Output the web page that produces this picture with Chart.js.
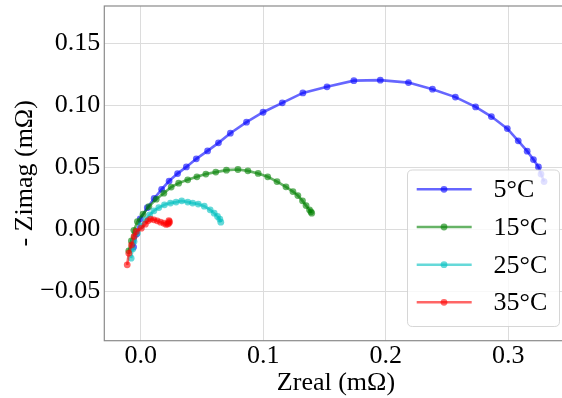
<!DOCTYPE html>
<html><head><meta charset="utf-8">
<script src="https://cdn.jsdelivr.net/npm/chart.js@4/dist/chart.umd.min.js"></script>
<style>html,body{margin:0;padding:0;overflow:hidden;background:#fff;width:562px;height:398px}canvas{display:block}</style>
</head><body>
<canvas id="c" width="571" height="398"></canvas>
<script>
const seriesNames = ['5°C', '15°C', '25°C', '35°C'];
const seriesColors = ['rgba(0,0,255,0.6)', 'rgba(0,128,0,0.6)', 'rgba(0,191,191,0.6)', 'rgba(255,0,0,0.6)'];

const x5 = [-0.0058, -0.0033, -0.0004, 0.0054, 0.0110, 0.0171, 0.0232, 0.0301, 0.0373, 0.0454, 0.0546, 0.0635, 0.0732, 0.0864, 0.0999, 0.1156, 0.1324, 0.1521, 0.1740, 0.1956, 0.2186, 0.2382, 0.2569, 0.2734, 0.2863, 0.2993, 0.3082, 0.3155, 0.3206, 0.3247, 0.3268, 0.3293];
const y5 = [-0.0145, -0.0040, 0.0082, 0.0173, 0.0247, 0.0321, 0.0388, 0.0448, 0.0502, 0.0567, 0.0631, 0.0696, 0.0774, 0.0863, 0.0943, 0.1019, 0.1099, 0.1148, 0.1198, 0.1202, 0.1182, 0.1129, 0.1065, 0.0986, 0.0908, 0.0811, 0.0712, 0.0629, 0.0561, 0.0502, 0.0444, 0.0384];

const x15 = [-0.0097, -0.0076, -0.0055, -0.0027, 0.0019, 0.0067, 0.0127, 0.0189, 0.0249, 0.0310, 0.0384, 0.0459, 0.0532, 0.0613, 0.0700, 0.0794, 0.0875, 0.0959, 0.1037, 0.1113, 0.1186, 0.1243, 0.1283, 0.1321, 0.1350, 0.1378, 0.1390, 0.1396];
const y15 = [-0.0175, -0.0095, -0.0010, 0.0061, 0.0121, 0.0182, 0.0242, 0.0290, 0.0339, 0.0371, 0.0398, 0.0422, 0.0444, 0.0460, 0.0476, 0.0481, 0.0470, 0.0449, 0.0422, 0.0384, 0.0341, 0.0303, 0.0271, 0.0228, 0.0190, 0.0156, 0.0140, 0.0129];

const x25 = [-0.0078, -0.0065, -0.0054, -0.0027, 0.0005, 0.0041, 0.0073, 0.0108, 0.0148, 0.0194, 0.0243, 0.0289, 0.0335, 0.0384, 0.0424, 0.0470, 0.0519, 0.0567, 0.0600, 0.0627, 0.0646, 0.0654];
const y25 = [-0.0234, -0.0160, -0.0100, -0.0032, 0.0027, 0.0075, 0.0115, 0.0148, 0.0174, 0.0196, 0.0210, 0.0218, 0.0228, 0.0218, 0.0210, 0.0202, 0.0185, 0.0156, 0.0129, 0.0102, 0.0081, 0.0056];

const x35 = [-0.0110, -0.0097, -0.0075, -0.0054, -0.0035, 0.0005, 0.0038, 0.0059, 0.0081, 0.0108, 0.0135, 0.0162, 0.0189, 0.0208, 0.0222, 0.0232, 0.0235, 0.0230];
const y35 = [-0.0288, -0.0194, -0.0127, -0.0060, -0.0019, 0.0008, 0.0040, 0.0067, 0.0081, 0.0075, 0.0067, 0.0056, 0.0048, 0.0038, 0.0042, 0.0050, 0.0060, 0.0068];

const xTicks = [0, 0.1, 0.2, 0.3];
const xTickLabels = ['0.0', '0.1', '0.2', '0.3'];
const yTicks = [-0.05, 0, 0.05, 0.10, 0.15];
const yTickLabels = ['\u22120.05', '0.00', '0.05', '0.10', '0.15'];
const xTitle = 'Zreal (mΩ)';
const yTitle = '- Zimag (mΩ)';

const FONT = "'Liberation Serif', 'Times New Roman', serif";
const toPts = (xs, ys) => xs.map((x, i) => ({x: x, y: ys[i]}));
const allX = [x5, x15, x25, x35];
const allY = [y5, y15, y25, y35];

const datasets = seriesNames.map((name, i) => ({
  label: name,
  data: toPts(allX[i], allY[i]),
  showLine: true,
  borderColor: seriesColors[i],
  backgroundColor: seriesColors[i],
  borderWidth: 2.6,
  pointRadius: 3.4,
  pointHoverRadius: 3.4,
  pointBorderWidth: 0,
  tension: 0,
  order: 3 - i
}));

const labelFor = (ticks, labels) => (v) => {
  const i = ticks.findIndex(t => Math.abs(t - v) < 1e-9);
  return i >= 0 ? labels[i] : '';
};

const framePlugin = {
  id: 'frameAndLegend',
  afterDatasetsDraw(chart) {
    const ctx = chart.ctx;
    const a = chart.chartArea;
    ctx.save();
    ctx.strokeStyle = '#8a8a8a';
    ctx.lineWidth = 1.2;
    ctx.strokeRect(a.left, a.top, a.right - a.left, a.bottom - a.top);
    // legend
    const bx = 407.5, by = 170, bw = 152, bh = 156.5, r = 5;
    ctx.beginPath();
    ctx.moveTo(bx + r, by);
    ctx.lineTo(bx + bw - r, by); ctx.quadraticCurveTo(bx + bw, by, bx + bw, by + r);
    ctx.lineTo(bx + bw, by + bh - r); ctx.quadraticCurveTo(bx + bw, by + bh, bx + bw - r, by + bh);
    ctx.lineTo(bx + r, by + bh); ctx.quadraticCurveTo(bx, by + bh, bx, by + bh - r);
    ctx.lineTo(bx, by + r); ctx.quadraticCurveTo(bx, by, bx + r, by);
    ctx.closePath();
    ctx.fillStyle = 'rgba(255,255,255,0.8)';
    ctx.fill();
    ctx.strokeStyle = 'rgba(204,204,204,0.8)';
    ctx.lineWidth = 1;
    ctx.stroke();
    const rows = [189.3, 227, 264.7, 302.3];
    ctx.font = '26px ' + FONT;
    ctx.textBaseline = 'middle';
    ctx.textAlign = 'left';
    seriesNames.forEach((name, i) => {
      const yy = rows[i];
      ctx.strokeStyle = seriesColors[i];
      ctx.lineWidth = 2.6;
      ctx.beginPath(); ctx.moveTo(416.7, yy); ctx.lineTo(471.7, yy); ctx.stroke();
      ctx.fillStyle = seriesColors[i];
      ctx.beginPath(); ctx.arc(444, yy, 3.4, 0, Math.PI * 2); ctx.fill();
      ctx.fillStyle = '#000';
      ctx.fillText(name, 493.5, yy + 1);
    });
    ctx.restore();
  }
};

new Chart(document.getElementById('c'), {
  type: 'scatter',
  data: { datasets: datasets },
  plugins: [framePlugin],
  options: {
    responsive: false,
    animation: false,
    events: [],
    layout: { padding: { top: 6, right: 0, bottom: 0, left: 0 } },
    plugins: { legend: { display: false }, tooltip: { enabled: false } },
    scales: {
      x: {
        type: 'linear',
        min: -0.0297,
        max: 0.3485,
        afterBuildTicks: (s) => { s.ticks = xTicks.map(v => ({value: v})); },
        afterFit: (s) => { s.height = 57.3; s.paddingLeft = 0; s.paddingRight = 0; s.paddingTop = 0; s.paddingBottom = 0; },
        grid: { color: '#dcdcdc', lineWidth: 1, drawTicks: false },
        border: { display: false },
        ticks: { color: '#000', font: { family: FONT, size: 26, lineHeight: 1.2 }, padding: 0, maxRotation: 0, autoSkip: false, callback: labelFor(xTicks, xTickLabels) },
        title: { display: true, text: xTitle, color: '#000', font: { family: FONT, size: 26, lineHeight: 1 }, padding: { top: 0, bottom: 2 } }
      },
      y: {
        type: 'linear',
        min: -0.09,
        max: 0.18,
        afterBuildTicks: (s) => { s.ticks = yTicks.map(v => ({value: v})); },
        afterFit: (s) => { s.width = 104.3; s.paddingLeft = 0; s.paddingRight = 0; s.paddingTop = 0; s.paddingBottom = 0; },
        grid: { color: '#dcdcdc', lineWidth: 1, drawTicks: false },
        border: { display: false },
        ticks: { color: '#000', font: { family: FONT, size: 26, lineHeight: 1.2 }, padding: 4, autoSkip: false, callback: labelFor(yTicks, yTickLabels) },
        title: { display: true, text: yTitle, color: '#000', font: { family: FONT, size: 26, lineHeight: 1 }, padding: { top: 12, bottom: 0 } }
      }
    }
  }
});
</script>
</body></html>
